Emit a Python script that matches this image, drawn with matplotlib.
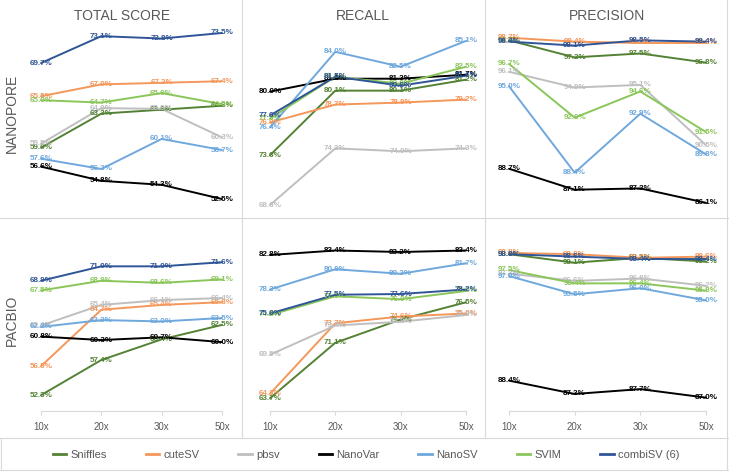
import matplotlib
matplotlib.use("Agg")
import matplotlib.pyplot as plt
from matplotlib.lines import Line2D

plt.rcParams['font.family'] = ['Liberation Sans', 'DejaVu Sans']

coverage = ['10x', '20x', '30x', '50x']
tools = ['Sniffles', 'cuteSV', 'pbsv', 'NanoVar', 'NanoSV', 'SVIM', 'combiSV (6)']
colors = ['#548235', '#F4975A', '#BFBFBF', '#000000', '#6FA8DC', '#8BC65A', '#2F5597']

# nanopore
np_total = [
    [59.0, 63.3, 63.8, 64.3],
    [65.5, 67.0, 67.2, 67.4],
    [59.5, 64.0, 63.9, 60.3],
    [56.6, 54.8, 54.3, 52.5],
    [57.6, 56.3, 60.1, 58.7],
    [65.0, 64.7, 65.9, 64.5],
    [69.7, 73.1, 72.8, 73.5],
]
np_recall = [
    [73.6, 80.1, 80.1, 81.2],
    [76.9, 78.7, 78.9, 79.2],
    [68.6, 74.3, 74.0, 74.3],
    [80.0, 81.3, 81.3, 81.7],
    [76.4, 84.0, 82.5, 85.1],
    [77.3, 81.5, 80.8, 82.5],
    [77.6, 81.5, 80.6, 81.6],
]
np_precision = [
    [98.5, 97.2, 97.5, 96.8],
    [98.7, 98.4, 98.3, 98.3],
    [96.1, 94.9, 95.1, 90.5],
    [88.7, 87.1, 87.2, 86.1],
    [95.0, 88.4, 92.9, 89.8],
    [96.7, 92.6, 94.6, 91.5],
    [98.4, 98.1, 98.5, 98.4],
]

# pacbio
pb_total = [
    [52.3, 57.4, 60.4, 62.5],
    [56.5, 64.7, 65.4, 65.8],
    [62.4, 65.4, 66.1, 66.4],
    [60.8, 60.3, 60.7, 60.0],
    [62.2, 63.2, 63.0, 63.5],
    [67.5, 68.9, 68.6, 69.1],
    [68.9, 71.0, 71.0, 71.6],
]
pb_recall = [
    [63.7, 71.1, 74.2, 76.5],
    [64.3, 73.7, 74.6, 75.0],
    [69.5, 73.4, 73.9, 74.8],
    [82.8, 83.4, 83.2, 83.4],
    [78.2, 80.9, 80.3, 81.7],
    [74.8, 77.3, 76.9, 78.0],
    [75.0, 77.5, 77.6, 78.2],
]
pb_precision = [
    [98.8, 98.1, 98.5, 98.2],
    [98.9, 98.8, 98.5, 98.6],
    [97.2, 96.6, 96.8, 96.2],
    [88.4, 87.3, 87.7, 87.0],
    [97.0, 95.5, 96.0, 95.0],
    [97.5, 96.4, 96.4, 95.8],
    [98.8, 98.6, 98.4, 98.4],
]

W, H = 729, 474
fig = plt.figure(figsize=(W / 100, H / 100), dpi=100)
grey = '#595959'
border = '#D9D9D9'


def px_axes(x0, x1, y0, y1):
    return fig.add_axes([x0 / W, 1 - y1 / H, (x1 - x0) / W, (y1 - y0) / H])


def hline(y, x0=0, x1=W):
    fig.add_artist(Line2D([x0 / W, x1 / W], [1 - y / H, 1 - y / H], color=border, lw=0.8))


def vline(x, y0=0, y1=H):
    fig.add_artist(Line2D([x / W, x / W], [1 - y0 / H, 1 - y1 / H], color=border, lw=0.8))


cols = [(41, 222), (270, 466), (509, 706)]
rows = [(22, 212), (225, 411)]
panels = [
    [(np_total, (50.86, 74.89)), (np_recall, (67.9, 87.0)), (np_precision, (85.4, 99.9))],
    [(pb_total, (50.0, 77.0)), (pb_recall, (62.0, 86.8)), (pb_precision, (85.9, 101.2))],
]
titles = ['TOTAL SCORE', 'RECALL', 'PRECISION']
x = list(range(len(coverage)))

for r, (y0, y1) in enumerate(rows):
    for c, (x0, x1) in enumerate(cols):
        data, ylim = panels[r][c]
        ax = px_axes(x0, x1, y0, y1)
        for vals, col in zip(data, colors):
            ax.plot(x, vals, color=col, lw=1.4, solid_capstyle='round', clip_on=False)
        for vals, col in zip(data, colors):
            for xi, v in zip(x, vals):
                ax.text(xi, v, f'{v:.1f}%', color=col, fontsize=5.8, fontweight='bold',
                        ha='center', va='center')
        ax.set_xlim(0, 3)
        ax.set_ylim(*ylim)
        ax.set_yticks([])
        for s in ['top', 'left', 'right']:
            ax.spines[s].set_visible(False)
        ax.set_facecolor('none')
        if r == 1:
            ax.spines['bottom'].set_color(border)
            ax.set_xticks(x)
            ax.set_xticklabels(coverage, fontsize=7, color=grey)
            ax.tick_params(axis='x', length=3, color=border, pad=5)
        else:
            ax.spines['bottom'].set_visible(False)
            ax.set_xticks([])

for t, xc in zip(titles, [122, 363, 607]):
    fig.text(xc / W, 1 - 16 / H, t, ha='center', va='center', fontsize=10, color=grey)
fig.text(12 / W, 1 - 113 / H, 'NANOPORE', rotation=90, ha='center', va='center', fontsize=10, color=grey)
fig.text(12 / W, 1 - 320 / H, 'PACBIO', rotation=90, ha='center', va='center', fontsize=10, color=grey)

# cell borders
vline(242, 0, 438)
vline(485, 0, 438)
hline(218)
hline(438)
hline(470)
vline(1, 438, 470)
vline(727, 0, 470)

handles = [Line2D([], [], color=col, lw=2) for col in colors]
fig.legend(handles, tools, loc='center', bbox_to_anchor=(366 / W, 1 - 455 / H), ncol=7,
           frameon=False, fontsize=8, handlelength=1.2, handletextpad=0.4, columnspacing=3.5,
           labelcolor=grey)

fig.savefig('out.png', dpi=100)
